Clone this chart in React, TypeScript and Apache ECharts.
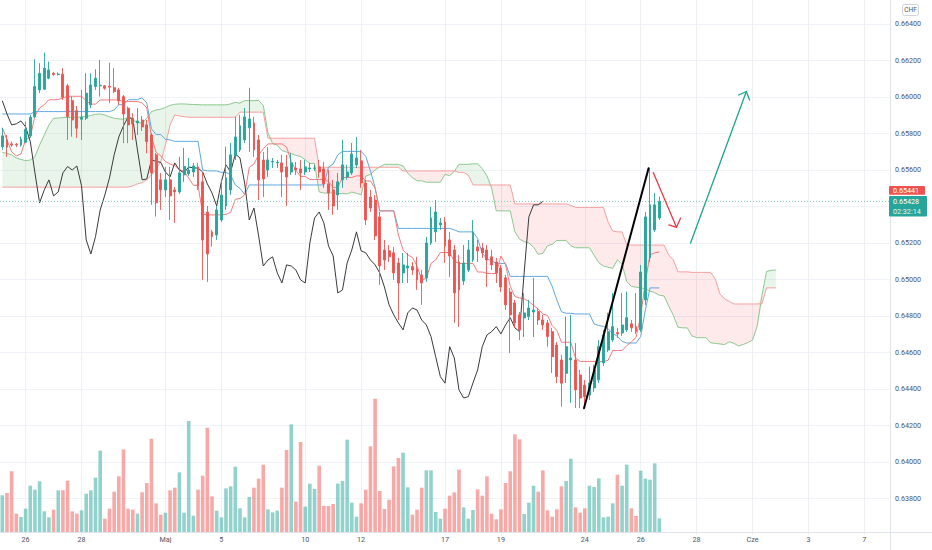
import React, { useEffect, useRef } from "react";
import * as echarts from "echarts";

// ---- layout constants (slots = 4h bars incl. future space) ----
const SLOT_COUNT = 191;
const PRICE_SCALE = 100000; // prices stored in 1e-5 units (points)
const CHIKOU_LAG = 25;

// ---- time axis labels ----
const dayLabelIndex = [5, 17, 35, 47, 65, 77, 95, 107, 125, 137, 149, 161, 173, 185];
const dayLabelText = ["26", "28", "Maj", "5", "10", "12", "17", "19", "24", "26", "28", "Cze", "3", "7"];

// ---- price axis ----
const priceAxisMin = 0.636;
const priceAxisTop = 0.665315;
const priceAxisStep = 0.002;
const hiddenPriceLabels = ["0.63600", "0.65400"];

// ---- OHLC (points) ----
const opens = [
  65728, 65765, 65743, 65741, 65736, 65752, 65787, 65892, 66039, 66043,
  66103, 66130, 66123, 66125, 66061, 65980, 65925, 65878, 65884, 65957,
  66057, 66061, 66061, 66059, 66051, 66039, 66002, 65939, 65884, 65858,
  65874, 65847, 65792, 65683, 65546, 65491, 65546, 65491, 65480, 65573,
  65579, 65589, 65617, 65535, 65370, 65261, 65244, 65326, 65403, 65491,
  65677, 65710, 65765, 65831, 65858, 65765, 65655, 65600, 65644, 65639,
  65639, 65617, 65589, 65611, 65606, 65589, 65606, 65609, 65617, 65606,
  65524, 65491, 65463, 65546, 65562, 65584, 65628, 65650, 65529, 65452,
  65436, 65343, 65162, 65157, 65146, 65091, 65036, 65063, 65071, 65058,
  65025, 65009, 65200, 65261, 65299, 65315, 65217, 65162, 65096, 64992,
  65052, 65107, 65178, 65173, 65162, 65124, 65096, 65063, 65009, 64932,
  64872, 64806, 64789, 64797, 64822, 64824, 64778, 64762, 64714, 64641,
  64559, 64486, 64559, 64559, 64477, 64422, 64367, 64406, 64450, 64543,
  64614, 64669, 64709, 64707, 64724, 64757, 64742, 64724, 64888, 65118,
  65272, 65337,
];
const closes = [
  65787, 65725, 65737, 65737, 65769, 65823, 65889, 66057, 66130, 66158,
  66148, 66123, 66126, 65999, 65892, 65874, 65829, 65889, 66021, 66066,
  66103, 66065, 66048, 66054, 66030, 65979, 65907, 65847, 65853, 65869,
  65836, 65756, 65584, 65420, 65491, 65546, 65458, 65480, 65584, 65619,
  65600, 65622, 65513, 65217, 65140, 65235, 65381, 65463, 65557, 65683,
  65781, 65842, 65891, 65880, 65710, 65546, 65551, 65655, 65647, 65642,
  65589, 65562, 65639, 65600, 65584, 65617, 65611, 65611, 65589, 65524,
  65474, 65403, 65535, 65628, 65589, 65688, 65666, 65529, 65326, 65392,
  65239, 65074, 65107, 65124, 65036, 64981, 65080, 65074, 65052, 64998,
  64981, 65200, 65337, 65370, 65310, 65184, 65129, 64926, 64943, 65091,
  65162, 65261, 65157, 65146, 65107, 65080, 65036, 64959, 64861, 64806,
  64762, 64724, 64817, 64844, 64833, 64778, 64751, 64687, 64577, 64468,
  64432, 64632, 64570, 64395, 64351, 64358, 64433, 64504, 64632, 64696,
  64714, 64742, 64702, 64751, 64791, 64735, 64714, 65041, 65343, 65409,
  65409, 65428,
];
const highs = [
  65831, 65792, 65756, 65748, 65783, 65865, 65902, 66207, 66185, 66243,
  66194, 66137, 66135, 66158, 66072, 66002, 65951, 66039, 66130, 66130,
  66152, 66203, 66066, 66188, 66158, 66050, 66011, 65947, 65911, 65939,
  65896, 65874, 65802, 65692, 65584, 65617, 65617, 65507, 65672, 65721,
  65666, 65639, 65639, 65584, 65403, 65272, 65403, 65546, 65728, 65748,
  65892, 65902, 65940, 66050, 65891, 65792, 65699, 65726, 65666, 65655,
  65683, 65683, 65694, 65644, 65655, 65655, 65639, 65628, 65655, 65644,
  65600, 65546, 65584, 65765, 65628, 65748, 65781, 65710, 65546, 65491,
  65463, 65370, 65217, 65189, 65178, 65118, 65146, 65146, 65096, 65124,
  65052, 65233, 65398, 65436, 65337, 65343, 65261, 65189, 65135, 65189,
  65217, 65326, 65217, 65200, 65189, 65162, 65118, 65080, 65025, 64954,
  64888, 64822, 64926, 64888, 65009, 64844, 64806, 64778, 64735, 64658,
  64587, 64797, 64806, 64652, 64504, 64450, 64523, 64532, 64669, 64724,
  64817, 64926, 64735, 64926, 64934, 64778, 64926, 65080, 65370, 65611,
  65474, 65454,
];
const lows = [
  65710, 65673, 65726, 65726, 65728, 65747, 65776, 65884, 66021, 66039,
  66097, 66116, 66118, 65984, 65765, 65783, 65776, 65765, 65874, 65939,
  66039, 66002, 66039, 65966, 66021, 65957, 65747, 65747, 65765, 65792,
  65814, 65692, 65409, 65345, 65381, 65452, 65326, 65310, 65469, 65535,
  65568, 65562, 65491, 64998, 64987, 65180, 65217, 65315, 65381, 65463,
  65655, 65699, 65748, 65699, 65672, 65436, 65452, 65562, 65611, 65611,
  65452, 65403, 65573, 65573, 65491, 65573, 65589, 65595, 65557, 65502,
  65381, 65354, 65381, 65502, 65546, 65573, 65611, 65502, 65299, 65370,
  65217, 64970, 65052, 65096, 64998, 64778, 64981, 64981, 65025, 64943,
  64861, 64987, 65189, 65206, 65272, 65091, 65014, 64762, 64740, 64970,
  65041, 65096, 65096, 65118, 64959, 65052, 64981, 64932, 64833, 64598,
  64735, 64669, 64685, 64778, 64685, 64751, 64724, 64632, 64488, 64433,
  64303, 64433, 64324, 64296, 64296, 64296, 64340, 64384, 64433, 64526,
  64603, 64658, 64680, 64691, 64713, 64713, 64702, 64713, 64861, 65096,
  65261, 65326,
];

// ---- volume (relative units) ----
const volumes = [
  110, 117, 182, 55, 45, 70, 139, 127, 152, 62,
  44, 67, 125, 125, 154, 62, 55, 65, 115, 125,
  163, 244, 40, 70, 121, 167, 248, 70, 67, 55,
  119, 147, 280, 86, 52, 58, 125, 133, 179, 58,
  333, 49, 127, 169, 313, 107, 64, 44, 131, 137,
  196, 71, 44, 105, 133, 160, 202, 68, 59, 64,
  133, 246, 323, 91, 270, 76, 145, 129, 199, 78,
  78, 84, 145, 153, 277, 88, 46, 86, 127, 257,
  400, 123, 69, 97, 197, 222, 238, 134, 52, 67,
  133, 185, 185, 60, 40, 70, 109, 119, 187, 74,
  40, 66, 128, 109, 167, 55, 38, 68, 147, 182,
  293, 278, 54, 88, 139, 121, 185, 65, 46, 68,
  137, 153, 220, 74, 58, 71, 139, 135, 161, 44,
  46, 86, 172, 139, 202, 71, 48, 184, 160, 157,
  206, 41,
];

// ---- Ichimoku lines (points) ----
const tenkan = [
  65831, 65765, 65699, 65677, 65688, 65765, 65781, 65896, 65940, 65958,
  65985, 65985, 65986, 65995, 66004, 66004, 66004, 66004, 65979, 65961,
  65961, 65984, 65984, 65984, 65984, 65984, 65975, 65975, 65975, 65975,
  65968, 65940, 65783, 65697, 65678, 65646, 65632, 65624, 65603, 65592,
  65556, 65516, 65516, 65359, 65354, 65354, 65354, 65354, 65357, 65368,
  65439, 65444, 65463, 65615, 65633, 65683, 65716, 65743, 65743, 65743,
  65743, 65726, 65647, 65598, 65565, 65565, 65548, 65548, 65548, 65548,
  65537, 65505, 65505, 65559, 65559, 65559, 65568, 65568, 65540, 65540,
  65499, 65376, 65376, 65376, 65376, 65244, 65162, 65135, 65121, 65074,
  64998, 65006, 65088, 65107, 65148, 65148, 65148, 65099, 65088, 65088,
  65088, 65088, 65041, 65041, 65033, 65033, 65033, 65129, 65080, 64962,
  64907, 64899, 64894, 64880, 64858, 64839, 64811, 64803, 64748, 64721,
  64656, 64656, 64656, 64570, 64551, 64551, 64551, 64551, 64551, 64551,
  64557, 64611, 64611, 64611, 64637, 64658, 64683, 64803, 64987, 65135,
  65146, 65151,
];
const kijun = [
  65907, 65907, 65907, 65907, 65907, 65907, 65907, 65920, 65920, 65920,
  65920, 65920, 65920, 65920, 65920, 65920, 65920, 65920, 65920, 65920,
  65920, 65920, 65920, 65920, 65929, 65958, 65958, 65985, 65985, 65986,
  65995, 65968, 65826, 65794, 65794, 65769, 65765, 65757, 65757, 65757,
  65757, 65757, 65757, 65600, 65595, 65595, 65595, 65587, 65587, 65572,
  65518, 65499, 65467, 65518, 65518, 65518, 65518, 65518, 65518, 65518,
  65518, 65518, 65518, 65518, 65518, 65518, 65518, 65518, 65518, 65518,
  65615, 65633, 65683, 65702, 65702, 65702, 65702, 65702, 65674, 65595,
  65505, 65376, 65376, 65376, 65376, 65280, 65280, 65280, 65280, 65280,
  65280, 65280, 65280, 65280, 65280, 65280, 65280, 65272, 65261, 65261,
  65261, 65261, 65225, 65143, 65115, 65102, 65088, 65088, 65088, 65017,
  65017, 65017, 65017, 65017, 65017, 65017, 65017, 65017, 64962, 64888,
  64823, 64815, 64815, 64811, 64811, 64811, 64811, 64757, 64748, 64743,
  64729, 64707, 64688, 64661, 64652, 64652, 64652, 64688, 64833, 64954,
  64954, 64954,
];
const spanA = [
  65695, 65692, 65683, 65666, 65658, 65651, 65655, 65673, 65737, 65792,
  65847, 65883, 65885, 65887, 65888, 65889, 65889, 65891, 65894, 65899,
  65905, 65907, 65902, 65891, 65884, 65880, 65878, 65889, 65874, 65861,
  65856, 65884, 65920, 65929, 65933, 65943, 65954, 65960, 65962, 65962,
  65960, 65959, 65958, 65957, 65957, 65957, 65957, 65957, 65957, 65962,
  65971, 65966, 65980, 65980, 65980, 65981, 65954, 65804, 65745, 65736,
  65707, 65698, 65690, 65680, 65674, 65656, 65636, 65636, 65480, 65474,
  65474, 65474, 65471, 65472, 65469, 65479, 65472, 65465, 65566, 65576,
  65600, 65617, 65631, 65631, 65631, 65631, 65622, 65582, 65558, 65541,
  65541, 65533, 65533, 65533, 65533, 65576, 65569, 65593, 65631, 65631,
  65631, 65634, 65634, 65607, 65568, 65502, 65376, 65376, 65376, 65376,
  65262, 65221, 65207, 65200, 65177, 65138, 65143, 65184, 65193, 65214,
  65214, 65214, 65185, 65174, 65174, 65174, 65174, 65133, 65092, 65074,
  65067, 65061, 65108, 65084, 64989, 64962, 64958, 64955, 64948, 64937,
  64928, 64914, 64910, 64855, 64804, 64739, 64735, 64735, 64691, 64681,
  64681, 64681, 64653, 64650, 64647, 64643, 64659, 64650, 64636, 64644,
  64655, 64668, 64745, 64910, 65044, 65050, 65052,
];
const spanB = [
  65506, 65506, 65506, 65506, 65506, 65506, 65506, 65506, 65506, 65506,
  65506, 65506, 65506, 65506, 65506, 65506, 65506, 65506, 65506, 65506,
  65506, 65506, 65506, 65506, 65506, 65506, 65506, 65506, 65513, 65524,
  65531, 65546, 65573, 65606, 65644, 65737, 65847, 65902, 65896, 65892,
  65889, 65889, 65889, 65889, 65889, 65889, 65889, 65889, 65889, 65889,
  65889, 65917, 65917, 65917, 65917, 65917, 65917, 65774, 65774, 65774,
  65774, 65774, 65774, 65774, 65774, 65774, 65774, 65774, 65615, 65615,
  65615, 65615, 65615, 65615, 65615, 65615, 65615, 65615, 65615, 65615,
  65615, 65615, 65615, 65615, 65615, 65615, 65595, 65595, 65595, 65595,
  65595, 65595, 65595, 65595, 65595, 65595, 65595, 65595, 65587, 65587,
  65572, 65518, 65518, 65518, 65518, 65518, 65518, 65518, 65518, 65518,
  65414, 65414, 65414, 65414, 65414, 65414, 65414, 65414, 65414, 65414,
  65414, 65414, 65406, 65395, 65395, 65395, 65395, 65395, 65395, 65395,
  65315, 65266, 65261, 65261, 65189, 65189, 65189, 65189, 65189, 65189,
  65189, 65189, 65189, 65135, 65107, 65042, 65042, 65042, 65039, 65039,
  65039, 65039, 65039, 65003, 64921, 64894, 64880, 64866, 64866, 64866,
  64866, 64866, 64866, 64866, 64954, 64954, 64954,
];

// ---- price tags ----
const redTagPrice = 65441;
const countdownText = "02:32:14";
const currencyText = "CHF";

// ---- hand-drawn annotations: [bar position, price points] ----
const trendLine = [[124.83, 64295], [138.69, 65610]];
const redArrowShaft = [[139.69, 65586], [144.68, 65286]];
const redArrowHead = [[143.03, 65299], [144.68, 65286], [145.54, 65336]];
const greenArrowShaft = [[147.68, 65199], [159.67, 66030]];
const greenArrowHead = [[158.02, 66011], [159.67, 66030], [160.37, 65984]];

const UP = "#26a69a";
const DOWN = "#ef5350";
const FONT = "Roboto, 'Liberation Sans', sans-serif";

const toPrice = (v: number) => v / PRICE_SCALE;

export default function App() {
  const ref = useRef<HTMLDivElement>(null);

  useEffect(() => {
    document.body.style.margin = "0";
    if (!ref.current) return;
    const chart = echarts.init(ref.current, undefined, { renderer: "svg" });

    const categories = Array.from({ length: SLOT_COUNT }, (_, i) => `b${i}`);
    const labelByIndex = new Map<number, string>(dayLabelIndex.map((idx, k) => [idx, dayLabelText[k]]));

    const candleData = opens.map((o, i) => [toPrice(o), toPrice(closes[i]), toPrice(lows[i]), toPrice(highs[i])]);
    const volumeData = volumes.map((v, i) => ({
      value: v,
      itemStyle: { color: closes[i] >= opens[i] ? "rgba(38,166,154,0.5)" : "rgba(239,83,80,0.5)" },
    }));
    const chikou = closes.slice(CHIKOU_LAG).map(toPrice);
    const cloudBase = spanA.map((a, i) => toPrice(Math.min(a, spanB[i])));
    const cloudUp = spanA.map((a, i) => Math.max(a - spanB[i], 0) / PRICE_SCALE);
    const cloudDown = spanA.map((a, i) => Math.max(spanB[i] - a, 0) / PRICE_SCALE);
    const lastClose = closes[closes.length - 1];
    const priceLine = [[-0.5, lastClose], [SLOT_COUNT - 0.5, lastClose]];

    const line = (data: number[], color: string, z: number, width = 1) => ({
      type: "line",
      xAxisIndex: 0,
      yAxisIndex: 0,
      data: data.map(toPrice),
      symbol: "none",
      showSymbol: false,
      silent: true,
      lineStyle: { color, width },
      z,
    });
    const drawing = (pts: number[][], color: string, width: number, extra: any = {}) => ({
      type: "line",
      xAxisIndex: 2,
      yAxisIndex: 0,
      data: pts.map(([x, p]) => [x, toPrice(p)]),
      symbol: "none",
      showSymbol: false,
      silent: true,
      clip: false,
      lineStyle: { color, width, cap: "round", join: "round" },
      z: 6,
      ...extra,
    });
    const cloudLayer = (data: number[], fill: string | null) => ({
      type: "line",
      xAxisIndex: 0,
      yAxisIndex: 0,
      stack: "cloud",
      data,
      symbol: "none",
      showSymbol: false,
      silent: true,
      lineStyle: { opacity: 0, width: 0 },
      areaStyle: fill ? { color: fill, opacity: 1 } : undefined,
      z: 1,
    });

    const option: any = {
      animation: false,
      backgroundColor: "#ffffff",
      textStyle: { fontFamily: FONT },
      grid: [
        { left: -2, right: 42, top: 0, bottom: 15 },
        { left: -2, right: 42, top: 382, bottom: 18 },
      ],
      xAxis: [
        {
          type: "category", gridIndex: 0, data: categories, boundaryGap: true,
          axisLine: { show: false }, axisTick: { show: false }, axisLabel: { show: false }, splitLine: { show: false },
        },
        {
          type: "category", gridIndex: 1, data: categories, boundaryGap: true,
          axisLine: { show: false }, axisTick: { show: false }, splitLine: { show: false },
          axisLabel: {
            interval: (i: number) => labelByIndex.has(i),
            formatter: (_v: string, i: number) => labelByIndex.get(i) ?? "",
            fontSize: 7.2, color: "#50535e", margin: 4, fontFamily: FONT,
          },
        },
        { type: "value", gridIndex: 0, min: -0.5, max: SLOT_COUNT - 0.5, show: false },
      ],
      yAxis: [
        {
          type: "value", gridIndex: 0, position: "right",
          min: priceAxisMin, max: priceAxisTop, interval: priceAxisStep,
          axisLine: { show: false }, axisTick: { show: false },
          splitLine: { show: true, showMinLine: false, showMaxLine: false, lineStyle: { color: "#f0f3fa", width: 1 } },
          axisLabel: {
            margin: 5, fontSize: 7.2, color: "#50535e", fontFamily: FONT,
            formatter: (v: number) => {
              const k = Math.round(v / priceAxisStep);
              if (Math.abs(v - k * priceAxisStep) > 1e-7) return "";
              const s = v.toFixed(5);
              return hiddenPriceLabels.includes(s) ? "" : s;
            },
          },
        },
        { type: "value", gridIndex: 1, min: 0, max: 450, show: false },
      ],
      series: [
        cloudLayer(cloudBase, null),
        cloudLayer(cloudUp, "rgba(76,175,80,0.12)"),
        cloudLayer(cloudDown, "rgba(242,54,69,0.11)"),
        line(spanA, "#8cc98f", 2),
        line(spanB, "#f4a0a0", 2),
        line(kijun, "#5fa8e2", 3),
        line(tenkan, "#f27c7c", 3),
        {
          type: "line", xAxisIndex: 0, yAxisIndex: 0, data: chikou, symbol: "none", showSymbol: false,
          silent: true, lineStyle: { color: "#3a3a3a", width: 1 }, z: 3,
        },
        {
          type: "bar", xAxisIndex: 1, yAxisIndex: 1, data: volumeData, barWidth: 3.6, silent: true, z: 1,
        },
        drawing(priceLine, "#7fcbc3", 1, {
          z: 3,
          clip: true,
          lineStyle: { color: "#7fcbc3", width: 1, type: [1, 2] },
        }),
        {
          type: "candlestick", xAxisIndex: 0, yAxisIndex: 0, data: candleData, barWidth: 2.4, silent: true, z: 4,
          itemStyle: { color: UP, color0: DOWN, borderColor: UP, borderColor0: DOWN, borderWidth: 0.9 },
        },
        drawing(trendLine, "#000000", 2, {
          markLine: {
            silent: true, symbol: ["none", "none"], label: { show: false }, z: 0, precision: 3,
            lineStyle: { color: "#eef0f4", width: 1, type: "solid" },
            data: dayLabelIndex.map((i) => ({ xAxis: i })),
          },
        }),
        drawing(redArrowShaft, "#f23645", 1.3),
        drawing(redArrowHead, "#f23645", 1.3),
        drawing(greenArrowShaft, "#1fa58e", 1.3),
        drawing(greenArrowHead, "#1fa58e", 1.3),
      ],
    };

    chart.setOption(option);

    const py = chart.convertToPixel({ yAxisIndex: 0 }, toPrice(lastClose)) as number;
    const tagText = (text: string, x: number, y: number, fill: string) => ({
      type: "text", x, y, z: 20,
      style: { text, fill, fontSize: 7.2, fontFamily: FONT, align: "left", verticalAlign: "middle", textAlign: "left", textVerticalAlign: "middle" },
    });
    chart.setOption({
      graphic: [
        { type: "line", z: 10, shape: { x1: 890.5, y1: 0, x2: 890.5, y2: 550 }, style: { stroke: "#e0e3eb", lineWidth: 1 } },
        { type: "line", z: 10, shape: { x1: 0, y1: 532.5, x2: 932, y2: 532.5 }, style: { stroke: "#e0e3eb", lineWidth: 1 } },
        { type: "rect", z: 10, shape: { x: 902.5, y: 4.5, width: 16, height: 11, r: 2 }, style: { fill: "#ffffff", stroke: "#d1d4dc", lineWidth: 1 } },
        {
          type: "text", x: 910.5, y: 10.2, z: 11,
          style: { text: currencyText, fill: "#50535e", fontSize: 6.5, fontFamily: FONT, align: "center", verticalAlign: "middle", textAlign: "center", textVerticalAlign: "middle" },
        },
        { type: "rect", z: 19, shape: { x: 889, y: py - 15.4, width: 36, height: 8.8, r: 1 }, style: { fill: DOWN } },
        tagText(toPrice(redTagPrice).toFixed(5), 893, py - 11, "#ffffff"),
        { type: "rect", z: 19, shape: { x: 889, y: py - 5.4, width: 38, height: 20.4, r: 1 }, style: { fill: UP } },
        tagText(toPrice(lastClose).toFixed(5), 893, py, "#ffffff"),
        tagText(countdownText, 893, py + 10, "rgba(255,255,255,0.92)"),
      ],
    });

    return () => chart.dispose();
  }, []);

  return <div ref={ref} style={{ width: 932, height: 550 }} />;
}
